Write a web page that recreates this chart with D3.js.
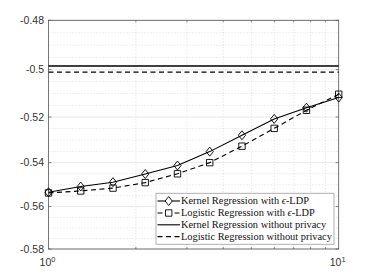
<!DOCTYPE html>
<html><head><meta charset="utf-8">
<script src="https://cdn.jsdelivr.net/npm/d3@7"></script>
<style>body{margin:0;background:#fff;} svg{display:block;}</style>
</head><body>
<script>
const xValues = [1, 1.2915, 1.6681, 2.1544, 2.7826, 3.5938, 4.6416, 5.9948, 7.7426, 10];
const kernelLDP = [-0.5534, -0.5508, -0.5488, -0.5451, -0.5413, -0.5351, -0.5279, -0.5208, -0.5160, -0.5117];
const logisticLDP = [-0.5537, -0.5528, -0.5515, -0.5490, -0.5450, -0.5400, -0.5327, -0.5249, -0.5171, -0.5103];
const kernelNoPriv = -0.4985;
const logisticNoPriv = -0.5010;
const yTicks = [-0.48, -0.50, -0.52, -0.54, -0.56, -0.58];
const yTickLabels = ["-0.48", "-0.5", "-0.52", "-0.54", "-0.56", "-0.58"];
const yMinor = d3.range(0, 21).map(i => -0.48 - i * 0.005);
const xMajor = [1, 10];
const xMinor = [2, 3, 4, 5, 6, 7, 8, 9];
const legendLabels = ["Kernel Regression with ", "Logistic Regression with ", "Kernel Regression without privacy", "Logistic Regression without privacy"];

const W = 374, H = 280;
const L = 48.5, R = 338.7, T = 20.3, B = 249;
const svg = d3.select("body").append("svg").attr("width", W).attr("height", H);

const xs = d3.scaleLog().domain([1, 10]).range([L, R]);
const ysLog = d3.scaleLog().domain([0.48, 0.58]).range([T, B]);
const y = v => ysLog(-v);

// grid
const g = svg.append("g");
g.selectAll(".ymin").data(yMinor.filter(v => !yTicks.some(t => Math.abs(t - v) < 1e-9)))
  .enter().append("line")
  .attr("x1", L).attr("x2", R).attr("y1", d => y(d)).attr("y2", d => y(d))
  .attr("stroke", "#c8c8c8").attr("stroke-width", 0.6).attr("stroke-dasharray", "1,2");
g.selectAll(".xmin").data(xMinor).enter().append("line")
  .attr("x1", d => xs(d)).attr("x2", d => xs(d)).attr("y1", T).attr("y2", B)
  .attr("stroke", "#c8c8c8").attr("stroke-width", 0.6).attr("stroke-dasharray", "1,2");
g.selectAll(".ymaj").data(yTicks).enter().append("line")
  .attr("x1", L).attr("x2", R).attr("y1", d => y(d)).attr("y2", d => y(d))
  .attr("stroke", "#e3e3e3").attr("stroke-width", 0.8);

// axes box
svg.append("rect").attr("x", L).attr("y", T).attr("width", R - L).attr("height", B - T)
  .attr("fill", "none").attr("stroke", "#555").attr("stroke-width", 0.8);

// ticks
const tk = svg.append("g").attr("stroke", "#555").attr("stroke-width", 0.7);
yTicks.forEach(v => {
  tk.append("line").attr("x1", L).attr("x2", L + 3).attr("y1", y(v)).attr("y2", y(v));
  tk.append("line").attr("x1", R).attr("x2", R - 3).attr("y1", y(v)).attr("y2", y(v));
});
xMinor.forEach(v => {
  tk.append("line").attr("x1", xs(v)).attr("x2", xs(v)).attr("y1", B).attr("y2", B - 2);
  tk.append("line").attr("x1", xs(v)).attr("x2", xs(v)).attr("y1", T).attr("y2", T + 2);
});

// tick labels
const tf = "'Liberation Sans', Arial, sans-serif";
svg.selectAll(".yl").data(yTicks).enter().append("text")
  .attr("x", L - 4.5).attr("y", d => y(d)).attr("dy", "0.35em")
  .attr("text-anchor", "end").attr("font-family", tf).attr("font-size", 10.5).attr("fill", "#333")
  .text((d, i) => yTickLabels[i]);
xMajor.forEach((v, i) => {
  const t = svg.append("text").attr("x", xs(v) - 1).attr("y", B + 17)
    .attr("text-anchor", "middle").attr("font-family", tf).attr("font-size", 10.5).attr("fill", "#333");
  t.append("tspan").text("10");
  t.append("tspan").attr("dy", -4.5).attr("font-size", 7.5).text(String(Math.log10(v)));
});

// no-privacy lines
svg.append("line").attr("x1", L).attr("x2", R).attr("y1", y(kernelNoPriv)).attr("y2", y(kernelNoPriv))
  .attr("stroke", "#000").attr("stroke-width", 1.3);
svg.append("line").attr("x1", L).attr("x2", R).attr("y1", y(logisticNoPriv)).attr("y2", y(logisticNoPriv))
  .attr("stroke", "#000").attr("stroke-width", 1.3).attr("stroke-dasharray", "5,3.5");

const line = d3.line().x((d, i) => xs(xValues[i])).y(d => y(d));
svg.append("path").datum(kernelLDP).attr("d", line).attr("fill", "none").attr("stroke", "#000").attr("stroke-width", 1.1);
svg.append("path").datum(logisticLDP).attr("d", line).attr("fill", "none").attr("stroke", "#000").attr("stroke-width", 1.1).attr("stroke-dasharray", "5,3.5");

const diamond = (cx, cy) => `M${cx},${cy - 4.5}L${cx + 3.6},${cy}L${cx},${cy + 4.5}L${cx - 3.6},${cy}Z`;
const square = (cx, cy) => `M${cx - 3.2},${cy - 3.2}h6.4v6.4h-6.4Z`;
svg.selectAll(".dm").data(kernelLDP).enter().append("path")
  .attr("d", (d, i) => diamond(xs(xValues[i]), y(d))).attr("fill", "none").attr("stroke", "#000").attr("stroke-width", 0.9);
svg.selectAll(".sq").data(logisticLDP).enter().append("path")
  .attr("d", (d, i) => square(xs(xValues[i]), y(d))).attr("fill", "none").attr("stroke", "#000").attr("stroke-width", 0.9);

// legend
const lx = 156, ly = 193.3, lw = 178, lh = 51;
svg.append("rect").attr("x", lx).attr("y", ly).attr("width", lw).attr("height", lh)
  .attr("fill", "#fff").attr("stroke", "#a8a8a8").attr("stroke-width", 0.9);
const rows = [201, 213, 224.8, 236.6];
const lf = "'Liberation Serif', 'Times New Roman', serif";
rows.forEach((ry, i) => {
  const ln = svg.append("line").attr("x1", 157.5).attr("x2", 180).attr("y1", ry).attr("y2", ry)
    .attr("stroke", "#000").attr("stroke-width", 1.1);
  if (i % 2 === 1) ln.attr("stroke-dasharray", "5,3.5");
  if (i === 0) svg.append("path").attr("d", diamond(168.7, ry)).attr("fill", "#fff").attr("stroke", "#000").attr("stroke-width", 0.9);
  if (i === 1) svg.append("path").attr("d", square(168.7, ry)).attr("fill", "#fff").attr("stroke", "#000").attr("stroke-width", 0.9);
  const t = svg.append("text").attr("x", 181).attr("y", ry).attr("dy", "0.33em")
    .attr("font-family", lf).attr("font-size", 10.4).attr("fill", "#111");
  t.append("tspan").text(legendLabels[i]);
  if (i < 2) {
    t.append("tspan").attr("font-style", "italic").text("\u03F5");
    t.append("tspan").text("-LDP");
  }
});
</script>
</body></html>
